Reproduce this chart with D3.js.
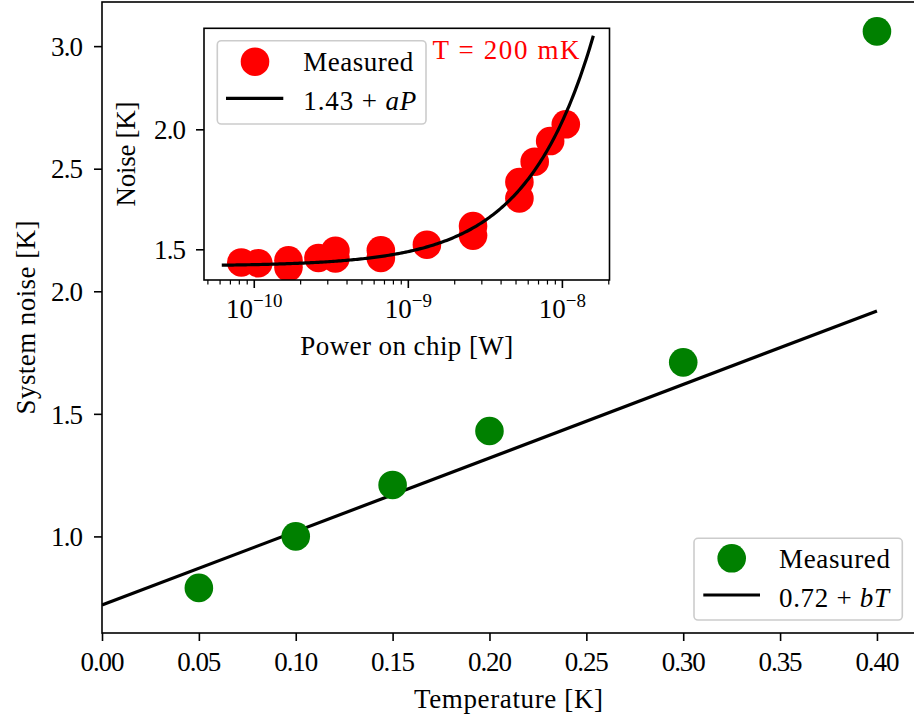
<!DOCTYPE html>
<html>
<head>
<meta charset="utf-8">
<script src="https://cdn.jsdelivr.net/npm/d3@7"></script>
<style>
  html, body { margin: 0; padding: 0; background: #fff; }
  svg { display: block; }
  text { font-family: "Liberation Serif", "DejaVu Serif", serif; fill: #000; }
</style>
</head>
<body>
<script>
// ---------- data ----------
const mainTemperature = [0.05, 0.10, 0.15, 0.20, 0.30, 0.40];
const mainNoise = [0.79, 1.00, 1.21, 1.43, 1.71, 3.06];
const mainFitIntercept = 0.72;
const mainFitSlope = 3.0;
const mainFitRange = [0, 0.40];
const mainXTicks = [0.00, 0.05, 0.10, 0.15, 0.20, 0.25, 0.30, 0.35, 0.40];
const mainYTicks = [1.0, 1.5, 2.0, 2.5, 3.0];

const insetPower = [8.3e-11, 1.07e-10, 1.68e-10, 1.68e-10, 2.63e-10, 3.39e-10, 3.39e-10,
  6.68e-10, 6.68e-10, 1.33e-9, 2.65e-9, 2.65e-9, 5.30e-9, 5.30e-9, 6.66e-9, 8.39e-9, 1.06e-8];
const insetNoise = [1.445, 1.442, 1.454, 1.425, 1.464, 1.494, 1.462,
  1.496, 1.464, 1.519, 1.597, 1.557, 1.780, 1.712, 1.865, 1.951, 2.021];
const insetFitIntercept = 1.43;
const insetFitSlope = 6.0e7;
const insetFitRange = [6.2e-11, 1.6e-8];
const insetXTicks = [1e-10, 1e-9, 1e-8];
const insetXTickExp = ["\u221210", "\u22129", "\u22128"];
const insetYTicks = [1.5, 2.0];

// ---------- layout ----------
const W = 914, H = 718, FS = 27;
const svg = d3.select("body").append("svg").attr("width", W).attr("height", H);

const x = d3.scaleLinear().domain([0, 0.42]).range([102, 915.7]);
const y = d3.scaleLinear().domain([0.606, 3.180]).range([633, 2]);

const xi = d3.scaleLog().domain([Math.pow(10, -10.323), Math.pow(10, -7.691)]).range([204, 609.5]);
const yi = d3.scaleLinear().domain([1.372, 2.421]).range([280, 28.3]);

const defs = svg.append("defs");
defs.append("clipPath").attr("id", "clipMain").append("rect")
  .attr("x", 102).attr("y", 2).attr("width", 915.7 - 102).attr("height", 631);
defs.append("clipPath").attr("id", "clipInset").append("rect")
  .attr("x", 204).attr("y", 28.3).attr("width", 609.5 - 204).attr("height", 280 - 28.3);

function fitText(sel, len) {
  sel.attr("textLength", len).attr("lengthAdjust", "spacing");
  return sel;
}

// ---------- main axes ----------
const gMain = svg.append("g");
const plotMain = gMain.append("g").attr("clip-path", "url(#clipMain)");

plotMain.append("path")
  .datum(mainFitRange)
  .attr("d", d3.line().x(t => x(t)).y(t => y(mainFitIntercept + mainFitSlope * t)))
  .attr("fill", "none").attr("stroke", "#000").attr("stroke-width", 3.2);

plotMain.selectAll("circle.pt").data(mainTemperature).join("circle")
  .attr("class", "pt")
  .attr("cx", d => x(d)).attr("cy", (d, i) => y(mainNoise[i]))
  .attr("r", 14.3).attr("fill", "#008000");

const xAxis = d3.axisBottom(x).tickValues(mainXTicks).tickFormat(d3.format(".2f")).tickSize(8).tickPadding(8);
const gx = gMain.append("g").attr("transform", "translate(0,633)").call(xAxis);
gx.select(".domain").remove();
gx.selectAll(".tick line").attr("stroke", "#000").attr("stroke-width", 1.6);
gx.selectAll(".tick text").attr("font-size", FS).attr("font-family", "Liberation Serif").attr("dy", "0.82em")
  .attr("textLength", 44).attr("lengthAdjust", "spacing");

const yAxis = d3.axisLeft(y).tickValues(mainYTicks).tickFormat(d3.format(".1f")).tickSize(8).tickPadding(11);
const gy = gMain.append("g").attr("transform", "translate(102,0)").call(yAxis);
gy.select(".domain").remove();
gy.selectAll(".tick line").attr("stroke", "#000").attr("stroke-width", 1.6);
gy.selectAll(".tick text").attr("font-size", FS).attr("font-family", "Liberation Serif").attr("dy", "0.34em")
  .attr("textLength", 32).attr("lengthAdjust", "spacing");

gMain.append("rect").attr("x", 102).attr("y", 2).attr("width", 915.7 - 102).attr("height", 631)
  .attr("fill", "none").attr("stroke", "#000").attr("stroke-width", 1.6);

fitText(svg.append("text").attr("x", 508.5).attr("y", 708).attr("text-anchor", "middle")
  .attr("font-size", FS).text("Temperature [K]"), 189);
fitText(svg.append("text").attr("transform", "translate(35,317.5) rotate(-90)").attr("text-anchor", "middle")
  .attr("font-size", FS).text("System noise [K]"), 194);

// main legend
const lg = svg.append("g");
lg.append("rect").attr("x", 694).attr("y", 538.3).attr("width", 208.3).attr("height", 81.7)
  .attr("rx", 4).attr("fill", "#fff").attr("fill-opacity", 0.8).attr("stroke", "#cccccc").attr("stroke-width", 1.6);
lg.append("circle").attr("cx", 731.7).attr("cy", 558.3).attr("r", 14.3).attr("fill", "#008000");
lg.append("line").attr("x1", 703.3).attr("x2", 760).attr("y1", 595).attr("y2", 595)
  .attr("stroke", "#000").attr("stroke-width", 3.2);
fitText(lg.append("text").attr("x", 779).attr("y", 567.5).attr("font-size", FS).text("Measured"), 111);
const lt2 = lg.append("text").attr("x", 779).attr("y", 606.5).attr("font-size", FS);
lt2.append("tspan").text("0.72 + ");
lt2.append("tspan").attr("font-style", "italic").text("bT");
fitText(lt2, 110);

// ---------- inset axes ----------
const gIn = svg.append("g");
gIn.append("rect").attr("x", 204).attr("y", 28.3).attr("width", 609.5 - 204).attr("height", 280 - 28.3)
  .attr("fill", "#fff");
const plotIn = gIn.append("g").attr("clip-path", "url(#clipInset)");

plotIn.selectAll("circle.ipt").data(insetPower).join("circle")
  .attr("class", "ipt")
  .attr("cx", d => xi(d)).attr("cy", (d, i) => yi(insetNoise[i]))
  .attr("r", 14.3).attr("fill", "#ff0000");

const fitPts = d3.range(0, 201).map(k => {
  const lp = Math.log10(insetFitRange[0]) + k / 200 * (Math.log10(insetFitRange[1]) - Math.log10(insetFitRange[0]));
  return Math.pow(10, lp);
});
plotIn.append("path").datum(fitPts)
  .attr("d", d3.line().x(p => xi(p)).y(p => yi(insetFitIntercept + insetFitSlope * p)))
  .attr("fill", "none").attr("stroke", "#000").attr("stroke-width", 3.2);

const minorTicks = [];
for (let e = -11; e <= -8; e++) for (let m = 2; m <= 9; m++) {
  const v = m * Math.pow(10, e);
  if (v >= xi.domain()[0] && v <= xi.domain()[1]) minorTicks.push(v);
}
const gxiMinor = gIn.append("g").attr("transform", "translate(0,280)")
  .call(d3.axisBottom(xi).tickValues(minorTicks).tickSize(4.5).tickFormat(""));
gxiMinor.select(".domain").remove();
gxiMinor.selectAll(".tick line").attr("stroke", "#000").attr("stroke-width", 1.2);

const gxi = gIn.append("g").attr("transform", "translate(0,280)")
  .call(d3.axisBottom(xi).tickValues(insetXTicks).tickSize(8).tickFormat(""));
gxi.select(".domain").remove();
gxi.selectAll(".tick line").attr("stroke", "#000").attr("stroke-width", 1.6);
gxi.selectAll(".tick").each(function (d, i) {
  const t = d3.select(this).append("text").attr("y", 38).attr("text-anchor", "middle")
    .attr("font-size", FS).attr("fill", "#000").attr("font-family", "Liberation Serif");
  t.append("tspan").text("10");
  t.append("tspan").attr("font-size", 19).attr("dy", -11).text(insetXTickExp[i]);
});

const gyi = gIn.append("g").attr("transform", "translate(204,0)")
  .call(d3.axisLeft(yi).tickValues(insetYTicks).tickFormat(d3.format(".1f")).tickSize(8).tickPadding(10));
gyi.select(".domain").remove();
gyi.selectAll(".tick line").attr("stroke", "#000").attr("stroke-width", 1.6);
gyi.selectAll(".tick text").attr("font-size", FS).attr("font-family", "Liberation Serif").attr("dy", "0.34em")
  .attr("textLength", 32).attr("lengthAdjust", "spacing");

gIn.append("rect").attr("x", 204).attr("y", 28.3).attr("width", 609.5 - 204).attr("height", 280 - 28.3)
  .attr("fill", "none").attr("stroke", "#000").attr("stroke-width", 1.6);

fitText(svg.append("text").attr("x", 406.75).attr("y", 355).attr("text-anchor", "middle")
  .attr("font-size", FS).text("Power on chip [W]"), 213);
fitText(svg.append("text").attr("transform", "translate(135,154) rotate(-90)").attr("text-anchor", "middle")
  .attr("font-size", FS).text("Noise [K]"), 105);

fitText(svg.append("text").attr("x", 432.5).attr("y", 59).attr("font-size", FS).attr("fill", "#ff0000")
  .style("fill", "#ff0000").text("T = 200 mK"), 147);

// inset legend
const il = svg.append("g");
il.append("rect").attr("x", 217.3).attr("y", 40.7).attr("width", 208.7).attr("height", 83.3)
  .attr("rx", 4).attr("fill", "#fff").attr("fill-opacity", 0.8).attr("stroke", "#cccccc").attr("stroke-width", 1.6);
il.append("circle").attr("cx", 255).attr("cy", 61.7).attr("r", 14.3).attr("fill", "#ff0000");
il.append("line").attr("x1", 226).attr("x2", 283.3).attr("y1", 98.3).attr("y2", 98.3)
  .attr("stroke", "#000").attr("stroke-width", 3.2);
fitText(il.append("text").attr("x", 303.3).attr("y", 71).attr("font-size", FS).text("Measured"), 110);
const it2 = il.append("text").attr("x", 303.3).attr("y", 109.5).attr("font-size", FS);
it2.append("tspan").text("1.43 + ");
it2.append("tspan").attr("font-style", "italic").text("aP");
fitText(it2, 113);
</script>
</body>
</html>
